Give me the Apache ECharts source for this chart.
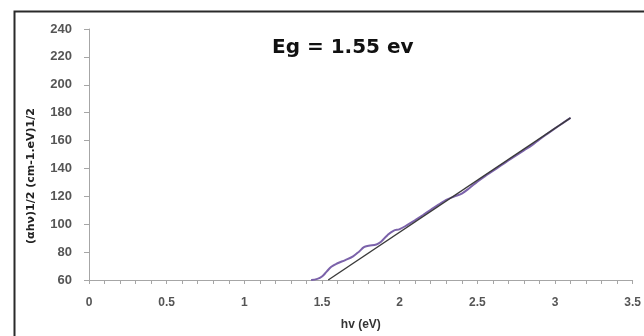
<!DOCTYPE html>
<html><head><meta charset="utf-8">
<script src="https://cdn.jsdelivr.net/npm/echarts@6/dist/echarts.min.js"></script>
<style>html,body{margin:0;padding:0;background:#fff}#c{width:644px;height:336px}</style>
</head><body><div id="c"></div>
<script>
var curveX = [1.43,1.47,1.50,1.53,1.56,1.60,1.65,1.70,1.74,1.77,1.80,1.85,1.88,1.92,1.96,2.00,2.05,2.10,2.15,2.20,2.25,2.30,2.35,2.40,2.45,2.50,2.55,2.60,2.65,2.70,2.75,2.80,2.85,2.90,2.95,3.00,3.05,3.10];
var curveY = [60,60.8,62.5,66,69.5,72,74.3,77,80.5,83.5,84.5,85.5,87.5,92,95.3,96.5,99.5,103,106.6,110.3,114,117.5,119.8,122,126,130.5,134.5,138.2,142,145.7,149.4,153,156.5,160.8,164.8,168.7,172.5,176.3];
var fitX = [1.54, 3.10];
var fitY = [60, 176.3];
var xTicks = {min: 0, max: 3.5, step: 0.5};
var yTicks = {min: 60, max: 240, step: 20};
var titleText = 'Eg = 1.55 ev';
var xName = 'hv (eV)';
var yName = '(αhν)1/2 (cm-1.eV)1/2';

function pairs(xs, ys){ return xs.map(function(x,i){ return [x, ys[i]]; }); }

var chart = echarts.init(document.getElementById('c'), null, {renderer:'canvas'});
chart.setOption({
  animation: false,
  backgroundColor: '#fff',
  graphic: [{
    type: 'rect', left: 12, top: 9, z: 0,
    shape: {width: 700, height: 400},
    style: {fill: 'none', stroke: '#2a2a2a', lineWidth: 2}
  }, {
    type: 'text', x: 31, y: 176, rotation: Math.PI / 2, z: 5,
    style: {text: yName, fill: '#222', font: 'bold 11px "DejaVu Sans"', align: 'center', verticalAlign: 'middle'}
  }],
  title: {
    text: titleText, left: 267, top: 33,
    textStyle: {fontFamily: 'DejaVu Sans', fontWeight: 'bold', fontSize: 20, color: '#111'}
  },
  grid: {left: 89, right: 9, top: 29, bottom: 47, containLabel: false},
  xAxis: {
    type: 'value', min: xTicks.min, max: xTicks.max, interval: xTicks.step,
    name: xName, nameLocation: 'middle', nameGap: 39,
    nameTextStyle: {fontFamily: 'Liberation Sans', fontWeight: 'bold', fontSize: 12, color: '#333'},
    axisLine: {show: true, onZero: false, lineStyle: {color: '#a6a6a6', width: 1}},
    axisTick: {show: true, inside: false, length: 4, lineStyle: {color: '#a6a6a6'}},
    minorTick: {show: true, splitNumber: 5, length: 4, lineStyle: {color: '#a6a6a6'}},
    axisLabel: {margin: 17, fontFamily: 'Liberation Sans', fontWeight: 'bold', fontSize: 12, color: '#555'},
    splitLine: {show: false}
  },
  yAxis: {
    type: 'value', min: yTicks.min, max: yTicks.max, interval: yTicks.step,
    axisLine: {show: true, lineStyle: {color: '#a6a6a6', width: 1}},
    axisTick: {show: true, inside: false, length: 5, lineStyle: {color: '#a6a6a6'}},
    axisLabel: {margin: 17, fontFamily: 'Liberation Sans', fontWeight: 'bold', fontSize: 13, color: '#555'},
    splitLine: {show: false}
  },
  series: [{
    type: 'line', data: pairs(curveX, curveY), smooth: 0.4, showSymbol: false,
    lineStyle: {color: '#7b62aa', width: 2}, z: 2
  }, {
    type: 'line', data: pairs(fitX, fitY), showSymbol: false,
    lineStyle: {color: '#3a3a3a', width: 1.4}, z: 3
  }]
});
</script></body></html>
